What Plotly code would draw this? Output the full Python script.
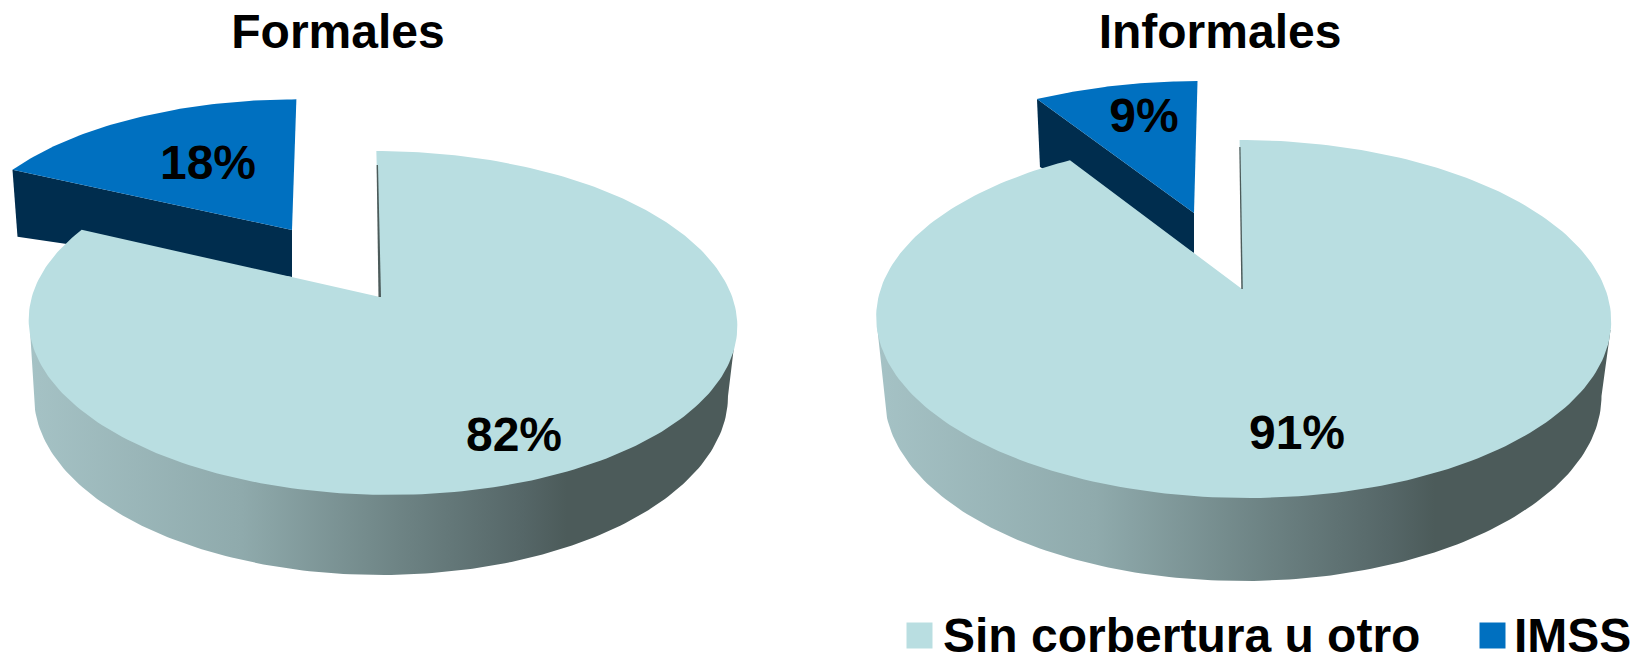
import numpy as np
import plotly.graph_objects as go

# ---- data
categories = ["Sin corbertura u otro", "IMSS"]
pie_titles = ["Formales", "Informales"]
formales_pct = [82, 18]
informales_pct = [91, 9]

COL_LIGHT = "#B9DEE1"
COL_BLUE = "#0070C0"
COL_DARK = "#002D4E"
SIDE_SCALE = [[0, "#A5C2C5"], [0.3, "#8FAAAC"], [0.52, "#6E8485"], [0.7, "#556667"], [0.76, "#4C5B5A"], [1, "#4C5B5A"]]
FONT = "Liberation Sans, Arial, sans-serif"
FS = 48

# ---- projection settings of the two drawn discs
left = dict(X0=382, Y0=297, a=168, b=350.2, c=-6.5, k=0.151, apex=(380, 297),
            base=dict(cx=381, cy=396, rx=347, ry=179), sx=(30, 736), wy=330,
            blue=dict(apex=(292, 230), sx=0.949, sy=0.895, s=-0.06, depth_apex=47,
                      depth_corner=(5, 67)),
            notch=[(376.6, 165), (378.5, 297), (381, 297), (378, 165)])
right = dict(X0=1243, Y0=289, a=174, b=362.3, c=-4, k=0.1676, apex=(1242, 289),
             base=dict(cx=1243, cy=396, rx=358.5, ry=185), sx=(877.5, 1610.5), wy=330,
             blue=dict(apex=(1194, 213), sx=0.942, sy=0.885, s=-0.044, depth_apex=40,
                       depth_corner=(3, 68)),
             notch=[(1239.3, 147), (1241.3, 289), (1242.8, 289), (1240.5, 147)])


def disc(p, deg):
    t = np.radians(deg)
    x, y = np.sin(t), np.cos(t)
    w = 1 + p["k"] * y
    return p["X0"] + (p["b"] * x + p["c"] * y) / w, p["Y0"] - p["a"] * y / w


fig = go.Figure()


def poly(xs, ys, color, **kw):
    fig.add_trace(go.Scatter(x=list(xs), y=list(ys), mode="lines", fill="toself",
                             fillcolor=color, line=dict(width=0), hoverinfo="skip",
                             showlegend=False, **kw))


def draw_pie(p, values):
    main_end = values[0] / sum(values) * 360
    ax, ay = p["apex"]
    # exploded slice: same arc, re-scaled round its own apex
    th = np.linspace(main_end, 360, 70)
    px, py = disc(p, th)
    b = p["blue"]
    bax, bay = b["apex"]
    oy = (py - ay) * b["sy"]
    ox = (px - ax) * b["sx"] + b["s"] * oy
    bx, by = bax + ox, bay + oy
    dcx, dcy = b["depth_corner"]
    poly([bx[0], bax, bax, bx[0] + dcx], [by[0], bay, bay + b["depth_apex"], by[0] + dcy], COL_DARK)
    poly(np.r_[bax, bx], np.r_[bay, by], COL_BLUE)
    # outer wall with the horizontal gradient
    B = p["base"]
    t = np.linspace(np.pi, 0, 160)
    wx = B["cx"] + B["rx"] * np.cos(t)
    wy = B["cy"] + B["ry"] * np.sin(t)
    xs = np.r_[p["sx"][0], wx, p["sx"][1]]
    ys = np.r_[p["wy"], wy, p["wy"]]
    fig.add_trace(go.Scatter(x=xs, y=ys, mode="lines", fill="toself", line=dict(width=0),
                             fillgradient=dict(type="horizontal", colorscale=SIDE_SCALE,
                                               start=p["sx"][0], stop=p["sx"][1]),
                             hoverinfo="skip", showlegend=False))
    # main slice
    th = np.linspace(0, main_end, 260)
    mx, my = disc(p, th)
    poly(np.r_[ax, mx], np.r_[ay, my], COL_LIGHT)
    # inner wall sliver
    poly([q[0] for q in p["notch"]], [q[1] for q in p["notch"]], "#4C5B5A")


draw_pie(left, formales_pct)
draw_pie(right, informales_pct)

# ---- texts
label_x = [514, 208, 1297, 1144]
label_y = [439, 167, 437, 120]
label_txt = [f"{v}%" for v in formales_pct + informales_pct]
fig.add_trace(go.Scatter(x=label_x, y=label_y, text=label_txt, mode="text", hoverinfo="skip",
                         textfont=dict(family=FONT, size=FS, color="black", weight="bold"),
                         showlegend=False))
fig.add_trace(go.Scatter(x=[338, 1220], y=[36, 36], text=pie_titles, mode="text", hoverinfo="skip",
                         textfont=dict(family=FONT, size=FS, color="black", weight="bold"),
                         showlegend=False))
# ---- legend row
for cat, col, sx, tx in zip(categories, [COL_LIGHT, COL_BLUE], [919.5, 1492.5], [943, 1514]):
    fig.add_trace(go.Scatter(x=[sx], y=[635.5], mode="markers", name=cat, hoverinfo="skip",
                             marker=dict(symbol="square", size=26, color=col, line=dict(width=0)),
                             showlegend=False))
    fig.add_trace(go.Scatter(x=[tx], y=[640], text=[cat], mode="text", textposition="middle right",
                             hoverinfo="skip", showlegend=False,
                             textfont=dict(family=FONT, size=FS, color="black", weight="bold")))

fig.update_layout(width=1633, height=656, margin=dict(l=0, r=0, t=0, b=0),
                  paper_bgcolor="white", plot_bgcolor="white", showlegend=False,
                  xaxis=dict(range=[0, 1633], visible=False, fixedrange=True),
                  yaxis=dict(range=[656, 0], visible=False, fixedrange=True))
fig.write_html("out.html", config={"displayModeBar": False},
               post_script="document.body.style.margin='0';document.body.style.overflow='hidden';")
